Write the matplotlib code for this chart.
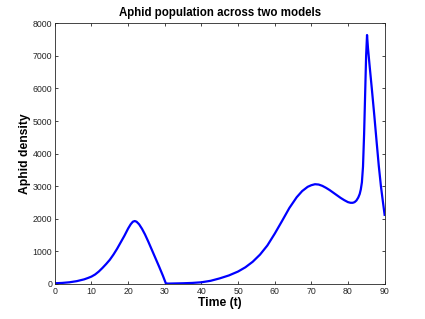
import matplotlib
matplotlib.use("Agg")
import matplotlib.pyplot as plt

# values
t = [0, 2, 4, 6, 8, 9, 10, 11, 12, 13, 14, 15, 16, 17, 18, 19, 20, 20.7, 21.3, 21.8, 22.3, 23,
     23.8, 24.6, 25.5, 26.5, 27.5, 28.5, 29.5, 30.3,
     31, 33, 35, 37.5, 40, 42.5, 45, 47.5, 50, 52, 54, 56, 58, 60, 62, 64, 66, 67.5, 69,
     70, 71, 72, 73, 74, 75, 76, 77, 78, 79, 80, 80.7, 81.3, 81.8, 82.3, 82.8, 83.2, 83.5,
     83.8, 84.1, 84.4, 84.7, 84.95, 85.2, 85.45, 85.9, 86.5, 87.2, 87.8, 88.4, 89, 89.5, 90]
density = [20, 30, 50, 85, 140, 180, 225, 290, 380, 490, 610, 740, 900, 1080, 1280, 1480, 1700, 1830, 1910, 1930, 1910, 1830,
           1690, 1520, 1300, 1040, 780, 520, 250, 15,
           10, 15, 20, 30, 50, 95, 170, 260, 380, 510, 680, 900, 1180, 1540, 1930, 2330, 2660, 2850, 2980,
           3030, 3060, 3050, 3010, 2950, 2880, 2800, 2720, 2640, 2570, 2510, 2490, 2490, 2510, 2560, 2650, 2760, 2900,
           3120, 3600, 4600, 5900, 7000, 7640, 7250, 6700, 6000, 5150, 4380, 3630, 2990, 2550, 2120]

plt.rcParams['font.family'] = ['Liberation Sans', 'DejaVu Sans']

fig = plt.figure(figsize=(4.25, 3.19), dpi=100)
ax = fig.add_axes([0.129, 0.110, 0.776, 0.817])
ax.plot(t, density, color='#0000ff', linewidth=1.6)

ax.set_xlim(0, 90)
ax.set_ylim(0, 8000)
ax.set_xticks(range(0, 91, 10))
ax.set_yticks(range(0, 8001, 1000))
ax.tick_params(direction='in', length=2.5, width=0.6, labelsize=6.3,
               colors='#262626', top=True, right=True, pad=2)
for s in ax.spines.values():
    s.set_color('#262626')
    s.set_linewidth(0.6)

ax.set_title('Aphid population across two models', fontsize=8.3, fontweight='bold', pad=5)
ax.set_xlabel('Time (t)', fontsize=8.7, fontweight='bold', labelpad=1)
ax.set_ylabel('Aphid density', fontsize=8.7, fontweight='bold', labelpad=1)

fig.savefig('out.png', dpi=100)
